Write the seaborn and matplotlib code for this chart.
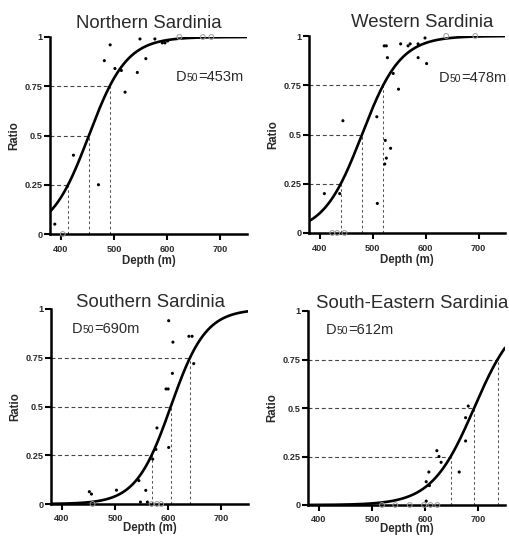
import numpy as np
import pandas as pd
import matplotlib
matplotlib.use("Agg")
import matplotlib.pyplot as plt
import seaborn as sns
from matplotlib.offsetbox import TextArea, HPacker, AnchoredOffsetbox

sns.set_style("ticks")
plt.rcParams['font.family'] = ['Liberation Sans', 'DejaVu Sans']

# ---------------- data ----------------
titles = ["Northern Sardinia", "Western Sardinia", "Southern Sardinia", "South-Eastern Sardinia"]
d50_labels = ["453m", "478m", "690m", "612m"]

# logistic curve parameters (50% depth, scale)
curve_mid = [453, 480, 605, 692]
curve_scale = [35.5, 36.4, 32.8, 40.0]

# Northern
n_depth = [389, 424, 471, 482, 493, 502, 514, 521, 544, 549, 560, 577, 591, 596, 601]
n_ratio = [0.05, 0.40, 0.25, 0.88, 0.96, 0.84, 0.83, 0.72, 0.82, 0.99, 0.89, 0.99, 0.97, 0.97, 0.98]
n_open_depth = [404, 623, 667, 683]
n_open_ratio = [0, 1, 1, 1]

# Western
w_depth = [409, 438, 444, 509, 508, 522, 526, 524, 526, 523, 528, 534, 539, 549, 553, 567, 571, 586, 586, 599, 602]
w_ratio = [0.20, 0.20, 0.57, 0.15, 0.59, 0.95, 0.95, 0.47, 0.38, 0.35, 0.89, 0.43, 0.81, 0.73, 0.96, 0.95, 0.96, 0.96, 0.89, 0.99, 0.86]
w_open_depth = [424, 433, 447, 639, 694]
w_open_ratio = [0, 0, 0, 1, 1]

# Southern
s_depth = [452, 456, 503, 545, 548, 558, 561, 571, 577, 579, 601, 596, 600, 601, 608, 609, 639, 645, 648]
s_ratio = [0.063, 0.051, 0.071, 0.12, 0.01, 0.07, 0.01, 0.23, 0.28, 0.39, 0.29, 0.59, 0.59, 0.94, 0.67, 0.83, 0.86, 0.86, 0.72]
s_open_depth = [458, 569, 579, 587]
s_open_ratio = [0, 0, 0, 0]

# South-Eastern
se_depth = [602, 602, 607, 608, 622, 626, 630, 664, 676, 676, 681]
se_ratio = [0.12, 0.02, 0.17, 0.10, 0.28, 0.25, 0.22, 0.17, 0.33, 0.45, 0.51]
se_open_depth = [519, 544, 571, 598, 610, 623]
se_open_ratio = [0, 0, 0, 0, 0, 0]

filled = [(n_depth, n_ratio), (w_depth, w_ratio), (s_depth, s_ratio), (se_depth, se_ratio)]
opened = [(n_open_depth, n_open_ratio), (w_open_depth, w_open_ratio),
          (s_open_depth, s_open_ratio), (se_open_depth, se_open_ratio)]

x_ticks = [400, 500, 600, 700]
y_ticks = [0, 0.25, 0.5, 0.75, 1]
y_ticklabels = ["0", "0.25", "0.5", "0.75", "1"]
levels = [0.25, 0.5, 0.75]

# ---------------- layout ----------------
W, H = 509, 536
fig = plt.figure(figsize=(W / 100, H / 100), dpi=100)
boxes = [(50, 247, 37, 234), (309, 505, 36, 233), (51, 248, 309, 504), (308, 505, 311, 505)]
title_pos = [(0.50, 0.046), (0.575, 0.046), (0.507, 0.009), (0.528, 0.015)]
d50_pos = [(0.64, 0.77), (0.663, 0.76), (0.107, 0.872), (0.09, 0.878)]
x_pad = [4, 4, 3, 3]
x_labelpad = [0.5, 0.5, -0.5, -0.5]

txt_color = "#2a2a2a"
for i in range(4):
    l, r, t, b = boxes[i]
    ax = fig.add_axes([l / W, 1 - b / H, (r - l) / W, (b - t) / H])
    ax.set_xlim(380, 750)
    ax.set_ylim(0, 1)

    xs = np.linspace(380, 750, 300)
    ys = 1 / (1 + np.exp(-(xs - curve_mid[i]) / curve_scale[i]))
    sns.lineplot(x=xs, y=ys, ax=ax, color="black", lw=1.9, zorder=3)

    for lv in levels:
        xv = curve_mid[i] + curve_scale[i] * np.log(lv / (1 - lv))
        ax.plot([380, xv], [lv, lv], ls=(0, (3.5, 2.5)), color="#444444", lw=0.8, zorder=1)
        ax.plot([xv, xv], [0, lv], ls=(0, (2.5, 2.5)), color="#555555", lw=0.75, zorder=1)

    fd, fr = filled[i]
    sns.scatterplot(x=fd, y=fr, ax=ax, s=5, color="black", edgecolor="none",
                    zorder=4, clip_on=False)
    od, orr = opened[i]
    sns.scatterplot(x=od, y=orr, ax=ax, s=12, facecolor="none", edgecolor="#9a9a9a",
                    linewidth=0.7, zorder=4, clip_on=False)

    sns.despine(ax=ax)
    for sp in ["left", "bottom"]:
        ax.spines[sp].set_linewidth(1.8)
        ax.spines[sp].set_color("black")
    ax.set_xticks(x_ticks)
    ax.set_yticks(y_ticks)
    ax.set_yticklabels(y_ticklabels)
    ax.tick_params(direction="out", length=4, width=1.5, labelsize=6.6,
                   colors="black", labelcolor=txt_color)
    ax.tick_params(axis="x", pad=x_pad[i])
    ax.tick_params(axis="y", pad=1.5)
    for lab in ax.get_xticklabels() + ax.get_yticklabels():
        lab.set_fontweight("bold")
    ax.set_xlabel("Depth (m)", fontsize=8.3, fontweight="bold", labelpad=x_labelpad[i], color=txt_color)
    ax.set_ylabel("Ratio", fontsize=8.3, fontweight="bold", labelpad=3, color=txt_color)

    tx, tp = title_pos[i]
    ax.text(tx, 1 + tp, titles[i], transform=ax.transAxes, ha="center", va="baseline",
            fontsize=13.4, color=txt_color)

    dx, dy = d50_pos[i]
    box = HPacker(children=[TextArea("D", textprops=dict(size=10.5, color=txt_color)),
                            TextArea("50", textprops=dict(size=7.5, color=txt_color)),
                            TextArea("=" + d50_labels[i], textprops=dict(size=10.5, color=txt_color))],
                  align="baseline", pad=0, sep=0)
    ab = AnchoredOffsetbox(loc="lower left", child=box, bbox_to_anchor=(dx, dy - 0.01),
                           bbox_transform=ax.transAxes, frameon=False, pad=0, borderpad=0)
    ax.add_artist(ab)

fig.savefig("out.png", dpi=100)
